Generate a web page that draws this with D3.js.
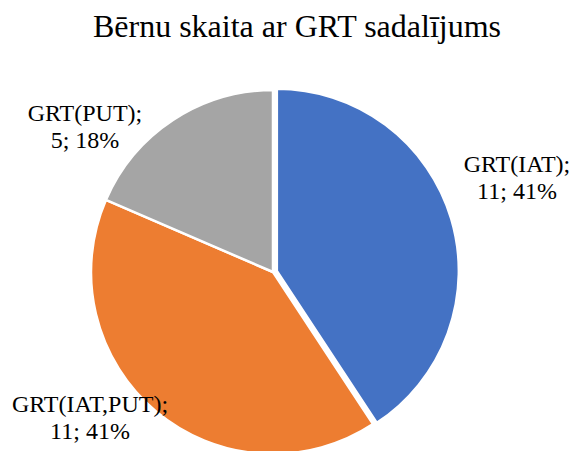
<!DOCTYPE html>
<html><head><meta charset="utf-8">
<script src="https://cdn.jsdelivr.net/npm/d3@7"></script>
<style>body{margin:0;background:#fff}svg{display:block}</style>
</head><body>
<svg id="c" width="574" height="451"></svg>
<script>
const categories = ["GRT(IAT)", "GRT(IAT,PUT)", "GRT(PUT)"];
const values = [11, 11, 5];
const percentLabels = ["41%", "41%", "18%"];
const colors = ["#4472C4", "#ED7D31", "#A5A5A5"];
const title = "Bērnu skaita ar GRT sadalījums";

const W = 574, H = 451;
const cx = 273, cy = 272, r = 182;
const svg = d3.select("#c");
const font = '"Liberation Serif"';

svg.append("text").attr("x", 297).attr("y", 37).attr("text-anchor", "middle")
  .style("font-family", font).attr("font-size", 32).attr("fill", "#000").text(title);

const data = categories.map((c, i) => ({cat: c, value: values[i], pct: percentLabels[i], color: colors[i], explode: i === 0 ? 4 : 0}));
const pie = d3.pie().value(d => d.value).sort(null).startAngle(0).endAngle(2 * Math.PI);
const arcs = pie(data);
const arc = d3.arc().innerRadius(0).outerRadius(r);

const g = svg.append("g").attr("transform", `translate(${cx},${cy})`);
g.selectAll("path").data(arcs).join("path")
  .attr("d", arc)
  .attr("fill", d => d.data.color)
  .attr("stroke", "#fff").attr("stroke-width", 2.5).attr("stroke-linejoin", "round")
  .attr("transform", d => {
    const a = (d.startAngle + d.endAngle) / 2;
    return `translate(${Math.sin(a) * d.data.explode},${-Math.cos(a) * d.data.explode})`;
  });

// label layout offsets (relative to pie centre)
const labelOffsets = [[244, -100], [-183, 140], [-188, -151]];
const lineGap = 27;
arcs.forEach((d, i) => {
  const t = svg.append("text").attr("text-anchor", "middle")
    .style("font-family", font).attr("font-size", 24).attr("fill", "#000");
  const x = cx + labelOffsets[i][0], y = cy + labelOffsets[i][1];
  t.append("tspan").attr("x", x).attr("y", y).text(d.data.cat + ";");
  t.append("tspan").attr("x", x).attr("y", y + lineGap).text(d.data.value + "; " + d.data.pct);
});
</script>
</body></html>
